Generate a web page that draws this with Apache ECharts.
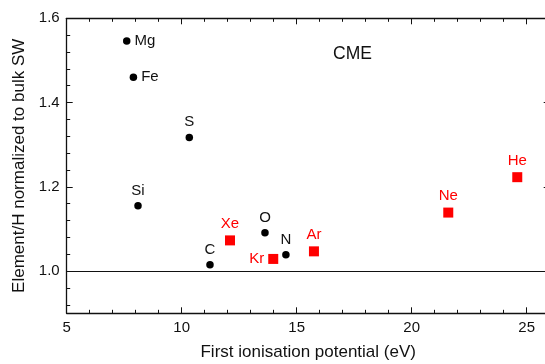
<!DOCTYPE html>
<html>
<head>
<meta charset="utf-8">
<script src="https://cdn.jsdelivr.net/npm/echarts@6/dist/echarts.min.js"></script>
<style>html,body{margin:0;padding:0;background:#fff}#c{width:545px;height:364px}</style>
</head>
<body>
<div id="c"></div>
<script>
// Data
var metalNames = ['Mg', 'Fe', 'S', 'Si', 'C', 'O', 'N'];
var metalFIP   = [7.61, 7.90, 10.33, 8.10, 11.23, 13.62, 14.53];
var metalRatio = [1.546, 1.460, 1.317, 1.155, 1.015, 1.091, 1.039];
var metalLabelPos = ['right', 'right', 'top', 'top', 'top', 'top', 'top'];

var nobleNames = ['Xe', 'Kr', 'Ar', 'Ne', 'He'];
var nobleFIP   = [12.10, 13.98, 15.75, 21.59, 24.59];
var nobleRatio = [1.073, 1.029, 1.047, 1.139, 1.223];
var nobleLabelPos = ['top', 'left', 'top', 'top', 'top'];

var xMajor = [5, 10, 15, 20, 25];
var xMinor = [6, 7, 8, 9, 11, 12, 13, 14, 16, 17, 18, 19, 21, 22, 23, 24, 26];
var yMajor = [1.0, 1.2, 1.4, 1.6];
var yMinor = [0.92, 0.96, 1.04, 1.08, 1.12, 1.16, 1.24, 1.28, 1.32, 1.36, 1.44, 1.48, 1.52, 1.56];
var xRange = [5, 26];
var yRange = [0.9, 1.6];
var refLevel = 1.0;

var FONT = '"Liberation Sans", Arial, sans-serif';
var AX = '#111';

function mkData(xs, ys, names, pos) {
  return xs.map(function (x, i) {
    return { value: [x, ys[i]], name: names[i], label: { position: pos[i] } };
  });
}

function xAx(position, ticks, len, showLine, showLabel) {
  return {
    type: 'value', position: position, min: xRange[0], max: xRange[1],
    axisLine: { show: showLine, onZero: false, lineStyle: { color: AX, width: 1.3 } },
    axisTick: { show: true, inside: true, length: len, customValues: ticks, lineStyle: { color: AX, width: 1 } },
    axisLabel: { show: showLabel, customValues: ticks, margin: 7, color: '#111', fontSize: 15, fontFamily: FONT },
    splitLine: { show: false }
  };
}
function yAx(position, ticks, len, showLine, showLabel) {
  return {
    type: 'value', position: position, min: yRange[0], max: yRange[1],
    axisLine: { show: showLine, onZero: false, lineStyle: { color: AX, width: 1.3 } },
    axisTick: { show: true, inside: true, length: len, customValues: ticks, lineStyle: { color: AX, width: 1 } },
    axisLabel: { show: showLabel, customValues: ticks, margin: 7, color: '#111', fontSize: 15, fontFamily: FONT,
      formatter: function (v) { return v.toFixed(1); } },
    splitLine: { show: false }
  };
}

var xAxes = [
  xAx('bottom', xMajor, 6, true, true),
  xAx('bottom', xMinor, 3.5, false, false),
  xAx('top', xMajor, 6, true, false),
  xAx('top', xMinor, 3.5, false, false)
];
xAxes[0].name = 'First ionisation potential (eV)';
xAxes[0].nameLocation = 'middle';
xAxes[0].nameGap = 31;
xAxes[0].nameTextStyle = { fontSize: 17, color: '#111', fontFamily: FONT };

var yAxes = [
  yAx('left', yMajor, 6, true, true),
  yAx('left', yMinor, 3.5, false, false),
  yAx('right', yMajor, 6, true, false),
  yAx('right', yMinor, 3.5, false, false)
];
yAxes[0].name = 'Element/H normalized to bulk SW';
yAxes[0].nameLocation = 'middle';
yAxes[0].nameGap = 37;
yAxes[0].nameTextStyle = { fontSize: 17, color: '#111', fontFamily: FONT };

var chart = echarts.init(document.getElementById('c'), null, { renderer: 'canvas' });
chart.setOption({
  animation: false,
  backgroundColor: '#fff',
  grid: { left: 66.7, top: 18.3, width: 483, height: 295, containLabel: false, outerBoundsMode: 'none' },
  xAxis: xAxes,
  yAxis: yAxes,
  graphic: [{
    type: 'text', left: 333, top: 45,
    style: { text: 'CME', fontSize: 17.5, fill: '#111', fontFamily: FONT }
  }],
  series: [
    {
      type: 'scatter', xAxisIndex: 0, yAxisIndex: 0,
      symbol: 'circle', symbolSize: 7.5,
      itemStyle: { color: '#000', opacity: 1 },
      label: { show: true, formatter: '{b}', color: '#111', fontSize: 15, fontFamily: FONT, distance: 4 },
      emphasis: { disabled: true },
      data: mkData(metalFIP, metalRatio, metalNames, metalLabelPos),
      markLine: {
        silent: true, symbol: ['none', 'none'], label: { show: false },
        lineStyle: { color: '#111', width: 1, type: 'solid' },
        emphasis: { disabled: true },
        data: [{ yAxis: refLevel }]
      },
      z: 3
    },
    {
      type: 'scatter', xAxisIndex: 0, yAxisIndex: 0,
      symbol: 'rect', symbolSize: 10,
      itemStyle: { color: '#ff0000', opacity: 1 },
      label: { show: true, formatter: '{b}', color: '#ff0000', fontSize: 15, fontFamily: FONT, distance: 4 },
      emphasis: { disabled: true },
      data: mkData(nobleFIP, nobleRatio, nobleNames, nobleLabelPos),
      z: 3
    }
  ]
});
</script>
</body>
</html>
